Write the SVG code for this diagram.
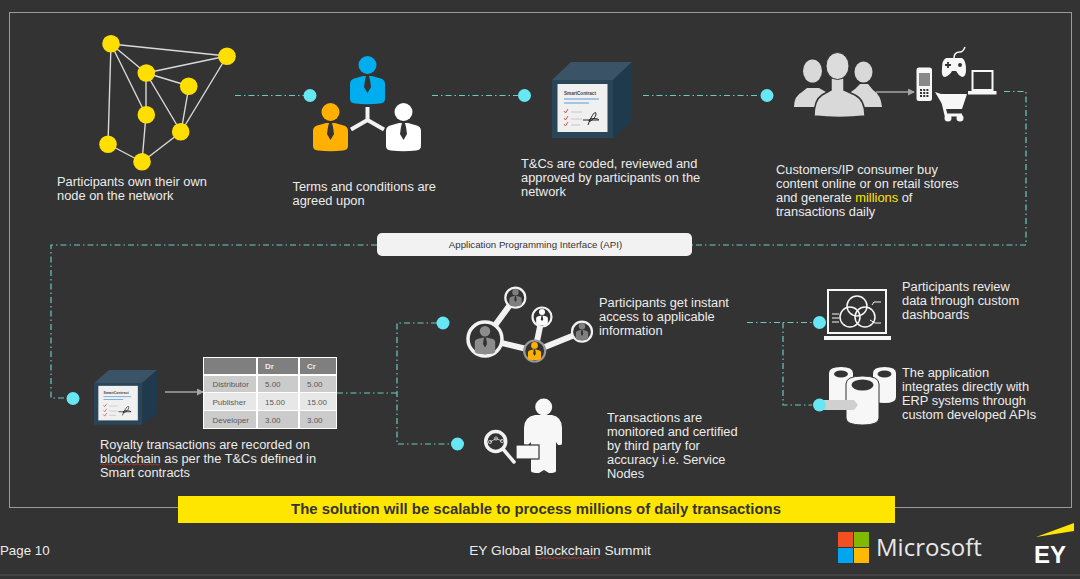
<svg xmlns="http://www.w3.org/2000/svg" xmlns:xlink="http://www.w3.org/1999/xlink" width="1080" height="579" viewBox="0 0 1080 579">
<style>
text{font-family:"Liberation Sans",Arial,sans-serif;fill:#ececec}
.t{font-size:12.85px}
.dash{fill:none;stroke:#6cc9c4;stroke-width:1.2;stroke-dasharray:6 3 1.5 3}
.dot{fill:#67e6f4}
.edge{stroke:#d9d9d9;stroke-width:1.4;fill:none}
.y{fill:#ffdf00}
.link{stroke:#f2f2f2;stroke-width:6;fill:none}
.ring{fill:#333;stroke:#f2f2f2;stroke-width:2.2}
.arrow{stroke:#a6a6a6;stroke-width:1.4;fill:none;marker-end:url(#ah)}
.cell{font-size:8px;fill:#595959}
.w{fill:#f7f7f7}
.g{fill:#d9d9d9}
.lw{fill:none;stroke:#f7f7f7}
.dark{fill:#333}
</style>
<defs>
<marker id="ah" markerWidth="8" markerHeight="8" refX="6" refY="3.5" orient="auto" markerUnits="userSpaceOnUse"><path d="M0 0L7 3.5L0 7Z" fill="#a6a6a6"/></marker>
<symbol id="person" viewBox="0 0 35 48" overflow="visible">
<circle cx="17.5" cy="9" r="9"/>
<path d="M0 28Q0 23 6 22L13 20H22L29 22Q35 23 35 28V43Q35 47 30 47.5Q17.5 49 5 47.5Q0 47 0 43Z"/>
<path d="M16 20H19L20 24L21 31L17.5 37L14 31L15 24Z" fill="#333"/>
</symbol>
<g id="cube">
<path d="M0 18L19 0H80L61 18Z" fill="#3b5366"/>
<path d="M61 18L80 0V60L61 76Z" fill="#1f3a4d"/>
<rect x="0" y="18" width="61" height="58" fill="#2a4558"/>
<rect x="5.500" y="22" width="50" height="48" fill="#f0f0f0"/>
<text x="12" y="33" font-size="4.600" font-weight="700" style="fill:#444">SmartContract</text>
<path d="M12 37H47" stroke="#5b9bd5" stroke-width="1"/>
<path d="M12 41H37" stroke="#5b9bd5" stroke-width="1"/>
<path d="M12 49L13.500 51L16 47M12 56L13.500 58L16 54M12 62L13.500 64L16 60" stroke="#d9534f" fill="none" stroke-width="1"/>
<path d="M19 50H30M19 57H30M19 63H28" stroke="#bbb" stroke-width=".8"/>
<path d="M31 58H47M36 63C40 52 44 48 44 52C44 56 36 62 37 58C38 56 46 56 47 58" stroke="#222" fill="none" stroke-width="1"/>
</g>
</defs>
<rect width="1080" height="579" fill="#333333"/>
<rect x="9.500" y="12.500" width="1062" height="495" fill="none" stroke="#9a9a9a" stroke-width="1"/>
<path d="M0 575H1080" stroke="#4a4a4a" stroke-width="1.500"/>

<g id="connectors">
<path class="dash" d="M235 95.500H305"/>
<path class="dash" d="M432 95.500H518"/>
<path class="dash" d="M643 95.500H760"/>
<path class="dash" d="M1004 91.500H1026V245H692"/>
<path class="dash" d="M377 245H51V398H68"/>
<path class="dash" d="M337 393H397"/>
<path class="dash" d="M437 323H397V444H452"/>
<path class="dash" d="M747 322.500H812"/>
<path class="dash" d="M783 322.500V405H812"/>
<circle class="dot" cx="310" cy="95.500" r="6.500"/>
<circle class="dot" cx="524.500" cy="95.500" r="6.500"/>
<circle class="dot" cx="767" cy="95.500" r="6.500"/>
<circle class="dot" cx="73" cy="398.500" r="6.500"/>
<circle class="dot" cx="443" cy="323" r="6.500"/>
<circle class="dot" cx="457.500" cy="444" r="6.500"/>
<circle class="dot" cx="819.500" cy="322.500" r="6.500"/>
</g>

<g id="node-network">
<path class="edge" d="M111 44L227 56M111 44L146 73M111 44L146 115M111 44L108 144M146 73L227 56M146 73L189 86M146 73L146 115M146 73L181 132M189 86L181 132M227 56L181 132M146 115L142 162M181 132L142 162M108 144L142 162"/>
<circle class="y" cx="111" cy="43.700" r="8.800"/><circle class="y" cx="227" cy="56.300" r="8.800"/><circle class="y" cx="146.300" cy="73" r="8.800"/><circle class="y" cx="188.700" cy="86.300" r="8.800"/><circle class="y" cx="146.300" cy="114.700" r="8.800"/><circle class="y" cx="180.700" cy="131.700" r="8.800"/><circle class="y" cx="108" cy="144.300" r="8.800"/><circle class="y" cx="142" cy="161.700" r="8.800"/>
<text class="t" x="57" y="186">Participants own their own</text>
<text class="t" x="57" y="200">node on the network</text>
</g>

<g id="node-terms">
<use href="#person" x="350" y="56" width="35" height="48" fill="#00aeef"/>
<use href="#person" x="313" y="103" width="35" height="48" fill="#ffb000"/>
<use href="#person" x="386" y="103" width="35" height="48" fill="#fff"/>
<path d="M367.500 107V120M367.500 120L351 129.500M367.500 120L384 129.500" stroke="#f2f2f2" stroke-width="4" fill="none"/>
<text class="t" x="292.500" y="191">Terms and conditions are</text>
<text class="t" x="292.500" y="205">agreed upon</text>
</g>

<g id="node-contract">
<use href="#cube" x="552" y="62"/>
<text class="t" x="521" y="168">T&amp;Cs are coded, reviewed and</text>
<text class="t" x="521" y="182">approved by participants on the</text>
<text class="t" x="521" y="196">network</text>
</g>

<g id="node-customers">
<g fill="#d9d9d9">
<ellipse cx="812.500" cy="71" rx="9.500" ry="11.500"/>
<path d="M794 107Q794 96 802 92L807 88H819L826 92L832 107Z"/>
<ellipse cx="863.500" cy="72" rx="9" ry="10.500"/>
<path d="M844 107Q846 94 855 89L860 84H868L873 90Q881 95 882 107Z"/>
</g>
<path d="M814 116Q814 100 822 95L831 90V78H844V90L855 95Q865 100 865 116Q840 119 814 116Z" fill="#d9d9d9" stroke="#333" stroke-width="1.500"/>
<ellipse cx="837.500" cy="66" rx="11.500" ry="13.500" fill="#dcdcdc" stroke="#333" stroke-width="1"/>
<path class="arrow" d="M876 92H914"/>
<rect x="916.500" y="67.500" width="15.500" height="33.500" rx="2.500" fill="#f7f7f7"/>
<rect x="919" y="73" width="11" height="13" fill="#888"/>
<path d="M920 90H929M920 93H929M920 96H929" stroke="#333" stroke-width="1.800" stroke-dasharray="2 1.200"/>
<path d="M946 58H962Q966 60 966 70Q966 77 962 77Q958 75 956 71H952Q950 75 945 77Q941 77 942 68Q942 60 946 58Z" fill="#f7f7f7"/>
<path d="M954 58Q954 52 960 52Q963 52 965 47" fill="none" stroke="#f7f7f7" stroke-width="1.500"/>
<path d="M945 65H951M948 62V68" stroke="#333" stroke-width="1.800"/>
<circle cx="960" cy="65" r="2" fill="#333"/>
<rect x="972.500" y="71" width="20" height="19" fill="none" stroke="#f7f7f7" stroke-width="2"/>
<rect x="968" y="91" width="28.500" height="3.500" fill="#f7f7f7"/>
<path d="M935 92L941 94H967L962 109H945Z" fill="#f7f7f7"/>
<path d="M941 94L946 115H962" fill="none" stroke="#f7f7f7" stroke-width="3"/>
<circle cx="948" cy="118" r="3.500" class="w"/><circle cx="960" cy="118" r="3.500" class="w"/>
<text class="t" x="776" y="174">Customers/IP consumer buy</text>
<text class="t" x="776" y="188">content online or on retail stores</text>
<text class="t" x="776" y="202">and generate <tspan style="fill:#ffe600">millions</tspan> of</text>
<text class="t" x="776" y="216">transactions daily</text>
</g>

<g id="node-api">
<rect x="377" y="233" width="315" height="23" rx="5" fill="#f2f2f2"/>
<text x="535.500" y="247.500" font-size="9.700" text-anchor="middle" style="fill:#333">Application Programming Interface (API)</text>
</g>

<g id="node-royalty">
<use href="#cube" transform="translate(94 370) scale(.79 .72)"/>
<path class="arrow" d="M165 392H203"/>
<rect x="203" y="357" width="134" height="72" fill="#fff"/>
<rect x="204" y="358" width="52" height="16" fill="#7f7f7f"/><rect x="258" y="358" width="40" height="16" fill="#7f7f7f"/><rect x="300" y="358" width="36" height="16" fill="#7f7f7f"/>
<rect x="204" y="376" width="52" height="16" fill="#cbcbcb"/><rect x="258" y="376" width="40" height="16" fill="#cbcbcb"/><rect x="300" y="376" width="36" height="16" fill="#cbcbcb"/>
<rect x="204" y="393" width="52" height="17" fill="#e7e7e7"/><rect x="258" y="393" width="40" height="17" fill="#e7e7e7"/><rect x="300" y="393" width="36" height="17" fill="#e7e7e7"/>
<rect x="204" y="411" width="52" height="17" fill="#cbcbcb"/><rect x="258" y="411" width="40" height="17" fill="#cbcbcb"/><rect x="300" y="411" width="36" height="17" fill="#cbcbcb"/>
<text x="265" y="369" font-size="8" font-weight="700">Dr</text><text x="307" y="369" font-size="8" font-weight="700">Cr</text>
<text class="cell" x="212.500" y="387">Distributor</text><text class="cell" x="265" y="387">5.00</text><text class="cell" x="307" y="387">5.00</text>
<text class="cell" x="212.500" y="405">Publisher</text><text class="cell" x="265" y="405">15.00</text><text class="cell" x="307" y="405">15.00</text>
<text class="cell" x="212.500" y="422.500">Developer</text><text class="cell" x="265" y="422.500">3.00</text><text class="cell" x="307" y="422.500">3.00</text>
<text class="t" x="100" y="449">Royalty transactions are recorded on</text>
<text class="t" x="100" y="463">blockchain as per the T&amp;Cs defined in</text>
<text class="t" x="100" y="477">Smart contracts</text>
<path d="M100 464.500q1.500-1.200 3 0t3 0t3 0t3 0t3 0t3 0t3 0t3 0t3 0t3 0t3 0t3 0t3 0t3 0t3 0t3 0t3 0t3 0t3 0t3 0" fill="none" stroke="#c0392b" stroke-width=".8"/>
</g>

<g id="node-access">
<path class="link" d="M485 339L515 298M485 339L535 351M535 351L542 317M535 351L582 332"/>
<circle cx="485" cy="339" r="17" fill="#333" stroke="#f2f2f2" stroke-width="3.500"/>
<use href="#person" x="473" y="326" width="24" height="28" fill="#8c8c8c"/>
<circle cx="515.300" cy="297.700" r="10" class="ring"/>
<use href="#person" x="508" y="289" width="15" height="17" fill="#7f7f7f"/>
<circle cx="542" cy="317" r="9.500" class="ring"/>
<use href="#person" x="535.500" y="309" width="13" height="16" fill="#fff"/>
<circle cx="534.700" cy="351" r="10.500" fill="#333" stroke="#9a9a9a" stroke-width="2.200"/>
<use href="#person" x="527" y="342" width="15" height="18" fill="#ffb000"/>
<circle cx="582" cy="331.700" r="10" class="ring"/>
<use href="#person" x="575" y="323" width="14" height="17" fill="#7f7f7f"/>
<text class="t" x="599" y="307">Participants get instant</text>
<text class="t" x="599" y="321">access to applicable</text>
<text class="t" x="599" y="335">information</text>
</g>

<g id="node-service">
<circle cx="543.700" cy="407" r="8.500" class="w"/>
<path d="M535 415H552Q562 417 562 428V444Q562 445 558 445L556 442V471Q556 473 549 473L544 470L539 473Q531 473 531 471V442L528 445Q524 445 524 444V428Q524 417 535 415Z" class="w"/>
<rect x="516" y="445" width="23" height="14" class="w" stroke="#333" stroke-width="1.200"/>
<circle cx="495.700" cy="441.500" r="10" fill="none" stroke="#f2f2f2" stroke-width="3.500"/>
<path d="M503 449L514 462" stroke="#f2f2f2" stroke-width="3.500" stroke-linecap="round"/>
<path d="M490 442L496 438.500L502 441" stroke="#ddd" stroke-width=".8" fill="none"/>
<circle cx="490" cy="442" r="1.600" fill="none" stroke="#ddd" stroke-width=".8"/><circle cx="496" cy="438.500" r="1.600" fill="none" stroke="#ddd" stroke-width=".8"/><circle cx="502" cy="441" r="1.600" fill="none" stroke="#ddd" stroke-width=".8"/>
<text class="t" x="607" y="422">Transactions are</text>
<text class="t" x="607" y="436">monitored and certified</text>
<text class="t" x="607" y="450">by third party for</text>
<text class="t" x="607" y="464">accuracy i.e. Service</text>
<text class="t" x="607" y="478">Nodes</text>
</g>

<g id="node-dashboard">
<rect x="828" y="290" width="58" height="43" class="lw" stroke-width="2"/>
<rect x="824" y="336" width="67" height="4" class="w"/>
<circle cx="857" cy="306" r="10" class="lw" stroke-width="1.500"/><circle cx="850" cy="317" r="10" class="lw" stroke-width="1.500"/><circle cx="865" cy="317" r="10" class="lw" stroke-width="1.500"/>
<path d="M832 314H839M832 318H839M832 322H839M872 305L874 302H881M870 320L875 323H881" class="lw"/>
<text class="t" x="902" y="291">Participants review</text>
<text class="t" x="902" y="305">data through custom</text>
<text class="t" x="902" y="319">dashboards</text>
</g>

<g id="node-erp">
<path d="M829 373Q829 367 841 367Q853 367 853 373V403H829Z" class="w"/><ellipse cx="841" cy="374" rx="7" ry="3.500" class="dark"/>
<path d="M873 373Q873 367 884.500 367Q896 367 896 373V397Q896 403 884.500 403Q873 403 873 397Z" class="w"/><ellipse cx="884.500" cy="374" rx="7" ry="3.500" class="dark"/>
<path d="M846 384Q846 376 862.500 376Q879 376 879 384V418Q879 425 862.500 425Q846 425 846 418Z" class="w" stroke="#333" stroke-width="1"/><ellipse cx="862.500" cy="385" rx="11" ry="5.500" class="dark"/>
<path d="M819 400H854L858 405L854 410H819Z" fill="#d0d0d0"/>
<circle class="dot" cx="819.500" cy="405" r="6.500"/>
<text class="t" x="902" y="377">The application</text>
<text class="t" x="902" y="391">integrates directly with</text>
<text class="t" x="902" y="405">ERP systems through</text>
<text class="t" x="902" y="419">custom developed APIs</text>
</g>

<g id="banner">
<rect x="178" y="496" width="717" height="27" fill="#ffe600"/>
<text x="536" y="514" font-size="14.900" font-weight="700" text-anchor="middle" style="fill:#333">The solution will be scalable to process millions of daily transactions</text>
</g>

<g id="footer">
<text x="0" y="555" font-size="13.300">Page 10</text>
<text x="560" y="555" font-size="13.700" text-anchor="middle">EY Global Blockchain Summit</text>
<path d="M536 558q1.500-1.200 3 0t3 0t3 0t3 0t3 0t3 0t3 0t3 0t3 0t3 0t3 0t3 0t3 0t3 0t3 0t3 0t3 0t3 0t3 0t3 0t3 0" fill="none" stroke="#c0392b" stroke-width=".8"/>
<rect x="838" y="532" width="15" height="15" fill="#f25022"/><rect x="854" y="532" width="15" height="15" fill="#7fba00"/>
<rect x="838" y="548" width="15" height="15" fill="#00a4ef"/><rect x="854" y="548" width="15" height="15" fill="#ffb900"/>
<text x="876" y="556" font-size="24" font-weight="500" style="font-family:'Open Sans',sans-serif;fill:#e8e8e8">Microsoft</text>
<path d="M1036 537L1074 523V531Z" fill="#ffe600"/>
<text x="1034" y="563" font-size="24" font-weight="700" style="fill:#fff">EY</text>
</g>
</svg>
